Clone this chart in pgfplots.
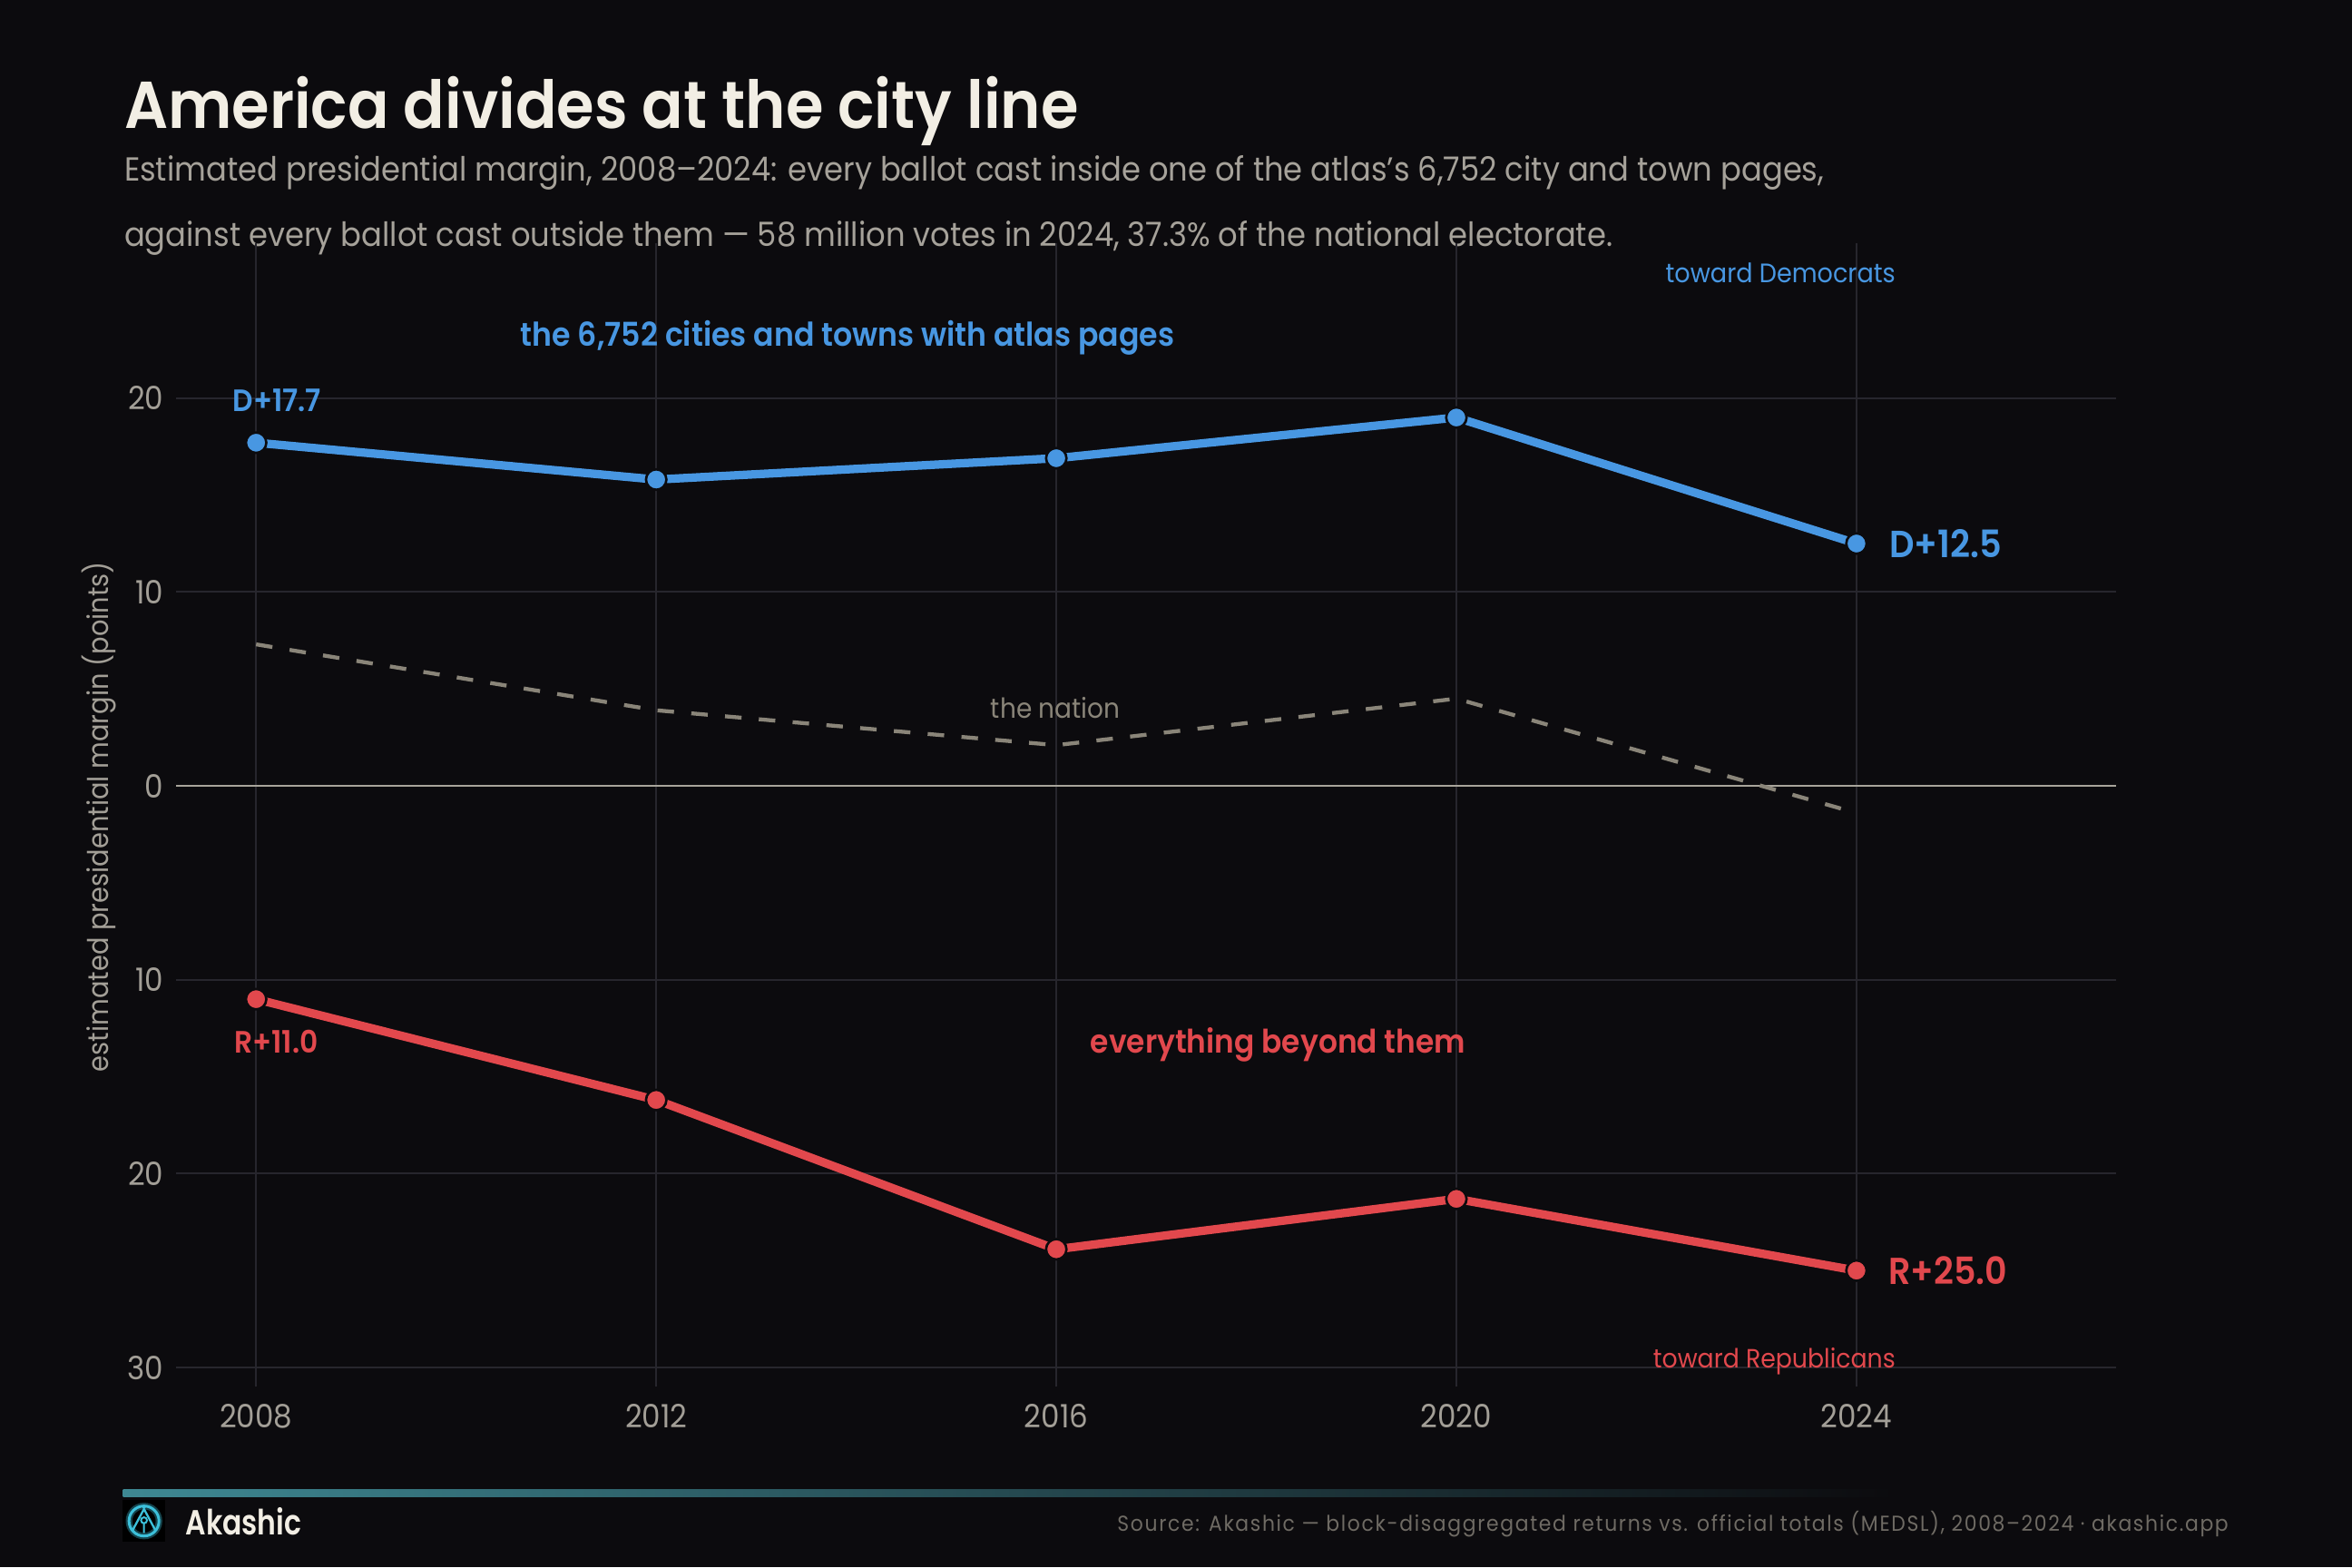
\documentclass[border=0pt]{standalone}
\usepackage{pgfplots}
\pgfplotsset{compat=1.18}
\usepackage{fontspec}
\setmainfont{Poppins}[FakeStretch=0.92]
\newfontfamily\srcfont{Poppins}[FakeStretch=0.92, LetterSpace=7]
\IfFontExistsTF{Poppins SemiBold}
  {\newfontfamily\semib{Poppins SemiBold}[FakeStretch=0.92]
   \newfontfamily\semibn{Poppins SemiBold}[FakeStretch=0.82]}
  {\newcommand\semib{\bfseries}\newcommand\semibn{\bfseries}}

\definecolor{bg}{HTML}{0C0B0E}
\definecolor{ink}{HTML}{F2EEE4}
\definecolor{sub}{HTML}{A6A29A}
\definecolor{tick}{HTML}{A39F97}
\definecolor{gridc}{HTML}{27262D}
\definecolor{zeroc}{HTML}{A8A49B}
\definecolor{nation}{HTML}{8A8579}
\definecolor{dem}{HTML}{4897E2}
\definecolor{rep}{HTML}{E2484D}
\definecolor{teal}{HTML}{3E8893}
\definecolor{logoc}{HTML}{3CC0DA}
\definecolor{srcc}{HTML}{6F6B64}

\newcommand\fs[1]{\fontsize{#1}{1.2\dimexpr#1pt\relax}\selectfont}

\begin{document}
\begin{tikzpicture}[x=0.5pt,y=-0.5pt]
\fill[bg] (0,0) rectangle (1568,1045);

% heading
\node[anchor=base west, inner sep=0, text=ink, font=\fs{22.1}\semib] at (82.5,85.7) {America divides at the city line};
\node[anchor=base west, inner sep=0, text=sub, font=\fs{11.1}] at (82.5,120.6)
  {Estimated presidential margin, 2008–2024: every ballot cast inside one of the atlas{\char"27}s 6,752 city and town pages,};
\node[anchor=base west, inner sep=0, text=sub, font=\fs{11.1}] at (82.5,164.4)
  {against every ballot cast outside them — 58 million votes in 2024, 37.3\% of the national electorate.};

\begin{axis}[
  at={(58.7pt,-462.3pt)}, anchor=south west,
  width=646.8pt, height=381.3pt, scale only axis,
  xmin=2007.2, xmax=2026.6, ymin=-31, ymax=28,
  axis line style={draw=none},
  tick style={draw=none}, major tick length=0pt,
  grid=major, major grid style={gridc, line width=0.6pt},
  xtick={2008,2012,2016,2020,2024},
  xticklabels={2008,2012,2016,2020,2024},
  ytick={-30,-20,-10,0,10,20},
  yticklabels={30,20,10,0,10,20},
  ticklabel style={font=\fs{10.7}, text=tick, inner sep=0pt},
  xticklabel style={anchor=center, yshift=-9.7pt},
  yticklabel style={anchor=east, xshift=-4pt},
  clip=false,
]
% zero line
\addplot[zeroc, line width=0.8pt] coordinates {(2007.2,0) (2026.6,0)};
% national margin
\addplot[nation, line width=1.3pt, dash pattern=on 5.5pt off 5.8pt] coordinates {
  (2008,7.3) (2012,3.9) (2016,2.1) (2020,4.5) (2024,-1.4)};
% everything outside the atlas places
\addplot[rep, line width=2.8pt, mark=*, mark size=3.4pt,
  mark options={fill=rep, draw=bg, line width=0.8pt}] coordinates {
  (2008,-11.0) (2012,-16.2) (2016,-23.9) (2020,-21.3) (2024,-25.0)};
% the atlas cities and towns
\addplot[dem, line width=2.8pt, mark=*, mark size=3.4pt,
  mark options={fill=dem, draw=bg, line width=0.8pt}] coordinates {
  (2008,17.7) (2012,15.8) (2016,16.9) (2020,19.0) (2024,12.5)};

\node[anchor=base, inner sep=0, text=dem, font=\fs{10.3}\semib, xshift=7pt, yshift=10.3pt] at (axis cs:2008,17.7) {D+17.7};
\node[anchor=base, inner sep=0, text=rep, font=\fs{10.3}\semib, xshift=6.75pt, yshift=-18pt] at (axis cs:2008,-11.0) {R+11.0};
\node[anchor=west, inner sep=0, text=dem, font=\fs{12.6}\semib, xshift=10.75pt] at (axis cs:2024,12.5) {D+12.5};
\node[anchor=west, inner sep=0, text=rep, font=\fs{12.5}\semib, xshift=10.5pt] at (axis cs:2024,-25.0) {R+25.0};
\end{axis}

% axis title
\node[rotate=90, anchor=center, inner sep=0, text=tick, font=\fs{9.5}] at (66,544.5) {estimated presidential margin (points)};

% series annotations
\node[anchor=base, inner sep=0, text=dem, font=\fs{10.9}\semib] at (565,231) {the 6,752 cities and towns with atlas pages};
\node[anchor=base, inner sep=0, text=rep, font=\fs{10.8}\semib] at (852,702) {everything beyond them};
\node[anchor=base, inner sep=0, text=nation, font=\fs{9.2}] at (703.7,479) {the nation};
\node[anchor=base east, inner sep=0, text=dem, font=\fs{8.9}] at (1264,188.6) {toward Democrats};
\node[anchor=base east, inner sep=0, text=rep, font=\fs{8.8}] at (1264,911.7) {toward Republicans};

% footer
\shade[left color=teal, right color=bg] (82,993) rectangle (1263,997.6);
\fill[black] (81.6,1000) rectangle (110,1028);
\draw[logoc!35!black, line width=2.2pt] (96,1014) circle (10);
\draw[logoc, line width=0.9pt] (96,1014) circle (10);
\draw[logoc, line width=0.7pt, line join=round] (88.5,1020) -- (96,1006) -- (103.5,1020);
\draw[logoc, line width=0.6pt] (96,1013.5) circle (2) (96,1015.5) -- (96,1022);
\fill[logoc] (96,1004.5) circle (1.3);
\node[anchor=base west, inner sep=0, text=ink, font=\fs{11.6}\semibn] at (123.4,1023) {Akashic};
\node[anchor=base east, inner sep=0, text=srcc, font=\fs{7.2}\srcfont] at (1486,1021)
  {Source: Akashic — block-disaggregated returns vs. official totals (MEDSL), 2008–2024 · akashic.app};
\end{tikzpicture}
\end{document}
